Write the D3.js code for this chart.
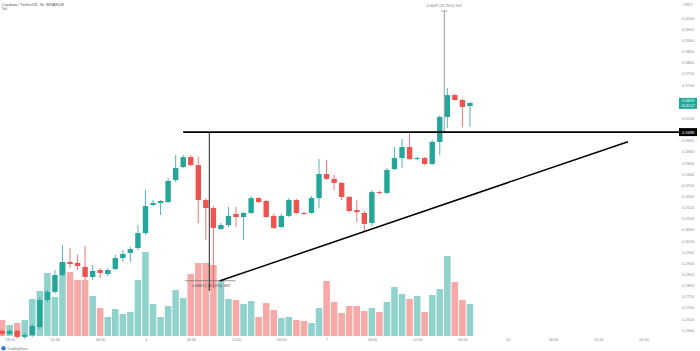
<!DOCTYPE html>
<html>
<head>
<meta charset="utf-8">
<script src="https://cdn.jsdelivr.net/npm/d3@7"></script>
<style>
html, body { margin: 0; padding: 0; background: #fff; }
#chart { width: 700px; height: 351px; }
text { font-family: "Liberation Sans", Arial, sans-serif; }
</style>
</head>
<body>
<div id="chart"></div>
<script>
// ADA/USDT 3h candles
const opens = [0.2596,0.2582,0.2596,0.2569,0.2578,0.2613,0.2735,0.2771,0.2847,0.2905,
    0.2901,0.2883,0.2838,0.2869,0.2851,0.2874,0.2923,0.2946,0.2968,0.3035,
    0.3161,0.3170,0.3174,0.3273,0.3331,0.3376,0.3340,0.3183,0.3147,0.3053,
    0.3071,0.3121,0.3107,0.3125,0.3192,0.3179,0.3112,0.3062,0.3112,0.3183,
    0.3125,0.3125,0.3192,0.3300,0.3278,0.3260,0.3197,0.3138,0.3125,0.3080,
    0.3219,0.3215,0.3322,0.3372,0.3421,0.3367,0.3372,0.3345,0.3444,0.3556,
    0.3654,0.3632,0.3605];
const highs = [0.2604,0.2604,0.2600,0.2587,0.2627,0.2748,0.2779,0.2869,0.2981,0.2968,
    0.2937,0.2977,0.2892,0.2878,0.2878,0.2937,0.2959,0.2972,0.3071,0.3228,
    0.3183,0.3183,0.3282,0.3385,0.3385,0.3385,0.3376,0.3192,0.3156,0.3080,
    0.3152,0.3152,0.3129,0.3201,0.3197,0.3183,0.3121,0.3121,0.3192,0.3188,
    0.3129,0.3201,0.3367,0.3363,0.3296,0.3264,0.3201,0.3183,0.3134,0.3228,
    0.3224,0.3327,0.3421,0.3457,0.3484,0.3376,0.3376,0.3453,0.3565,0.3686,
    0.3659,0.3637,0.3623];
const lows = [0.2573,0.2578,0.2560,0.2560,0.2569,0.2604,0.2726,0.2762,0.2838,0.2878,
    0.2869,0.2824,0.2824,0.2833,0.2842,0.2869,0.2905,0.2905,0.2959,0.3026,
    0.3156,0.3116,0.3170,0.3264,0.3327,0.3336,0.3080,0.3004,0.2788,0.3049,
    0.3062,0.3062,0.3004,0.3121,0.3170,0.3103,0.3053,0.3058,0.3107,0.3121,
    0.3116,0.3121,0.3147,0.3273,0.3228,0.3183,0.3129,0.3085,0.3044,0.3067,
    0.3210,0.3210,0.3318,0.3327,0.3363,0.3363,0.3340,0.3340,0.3385,0.3506,
    0.3628,0.3511,0.3511];
const closes = [0.2582,0.2596,0.2569,0.2578,0.2618,0.2735,0.2771,0.2847,0.2905,0.2896,
    0.2887,0.2838,0.2865,0.2856,0.2869,0.2923,0.2941,0.2963,0.3035,0.3156,
    0.3170,0.3179,0.3269,0.3327,0.3376,0.3340,0.3183,0.3147,0.3058,0.3071,
    0.3112,0.3107,0.3125,0.3192,0.3174,0.3107,0.3058,0.3112,0.3183,0.3125,
    0.3121,0.3192,0.3300,0.3278,0.3260,0.3197,0.3134,0.3129,0.3076,0.3219,
    0.3215,0.3318,0.3372,0.3421,0.3367,0.3372,0.3345,0.3444,0.3556,0.3654,
    0.3632,0.3601,0.3619];
const volumes = [16,11,13,16,37,45,63,39,73,64,
    56,56,40,28,19,27,22,24,56,84,
    32,19,30,46,38,62,73,73,71,56,
    37,36,32,35,19,33,26,18,19,16,
    15,13,28,55,34,23,30,30,25,28,
    24,34,49,42,37,40,24,41,47,80,
    54,36,32];

const timeTickIdx = [1, 7, 13, 19, 25, 31, 37, 43, 49, 55, 61, 67, 73, 79, 85];
const timeTickLabels = ['18:00', '12:00', '06:00', '4', '18:00', '12:00', '06:00', '7',
    '18:00', '12:00', '06:00', '10', '18:00', '12:00', '06:00'];
const priceTicks = d3.range(0, 29).map(k => +(0.26 + k * 0.005).toFixed(4));

// drawings on the chart (bar index, price)
const levelPrice = 0.3488;
const levelStartIdx = 24;
const trendIdx = [28.88, 82.94];
const trendPrice = [0.2821, 0.3445];
const dropIdx = 27.46;
const dropPrice = [0.3488, 0.2775];
const dropBase = 0.2821;
const dropBaseIdx = [24.2, 30.9];
const dropLabel = '-0.0667 (-19.12%) -667';
const spikeIdx = 58.6;
const spikePrice = [0.4031, 0.3484];
const spikeLabel = '0.0547 (15.70%) 547';

function drawCandleChart() {
    const width = 700, height = 351;
    const plotRight = 679;
    const up = '#26a69a', down = '#ef5350';
    const upVol = '#92d2cc', downVol = '#f7a9a7';

    const svg = d3.select('#chart').append('svg')
        .attr('width', width)
        .attr('height', height);

    const x = d3.scaleLinear().domain([0, 87]).range([2.1, 658.6]);
    const y = d3.scaleLinear().domain([0.26, 0.40]).range([330, 18]);
    const yVol = d3.scaleLinear().domain([0, 100]).range([336, 236]);
    const step = x(1) - x(0);

    const candles = opens.map((o, i) => ({
        i, o, h: highs[i], l: lows[i], c: closes[i], v: volumes[i], up: closes[i] >= o
    }));

    // volume
    svg.append('g').selectAll('rect')
        .data(candles)
        .enter()
        .append('rect')
        .attr('x', d => x(d.i) - (step - 1) / 2)
        .attr('y', d => yVol(d.v))
        .attr('width', step - 1)
        .attr('height', d => yVol(0) - yVol(d.v))
        .attr('fill', d => d.up ? upVol : downVol);

    // wicks + bodies
    const g = svg.append('g');
    g.selectAll('.wick')
        .data(candles)
        .enter()
        .append('line')
        .attr('class', 'wick')
        .attr('x1', d => x(d.i)).attr('x2', d => x(d.i))
        .attr('y1', d => y(d.h)).attr('y2', d => y(d.l))
        .attr('stroke', d => d.up ? up : down)
        .attr('stroke-width', 0.8);

    g.selectAll('.body')
        .data(candles)
        .enter()
        .append('rect')
        .attr('class', 'body')
        .attr('x', d => x(d.i) - 2.7)
        .attr('y', d => y(Math.max(d.o, d.c)))
        .attr('width', 5.4)
        .attr('height', d => Math.max(1, Math.abs(y(d.o) - y(d.c))))
        .attr('fill', d => d.up ? up : down);

    // spike range marker
    svg.append('line')
        .attr('x1', x(spikeIdx)).attr('x2', x(spikeIdx))
        .attr('y1', y(spikePrice[0])).attr('y2', y(spikePrice[1]))
        .attr('stroke', '#8f929a').attr('stroke-width', 0.9);
    svg.append('line')
        .attr('x1', x(spikeIdx) - 3).attr('x2', x(spikeIdx) + 3)
        .attr('y1', y(spikePrice[0])).attr('y2', y(spikePrice[0]))
        .attr('stroke', '#8f929a').attr('stroke-width', 0.9);
    svg.append('text')
        .attr('x', x(spikeIdx)).attr('y', y(spikePrice[0]) - 4.5)
        .attr('text-anchor', 'middle')
        .attr('font-size', 3.8).attr('fill', '#6f727a')
        .text(spikeLabel);

    // horizontal resistance
    svg.append('line')
        .attr('x1', x(levelStartIdx)).attr('x2', plotRight)
        .attr('y1', y(levelPrice)).attr('y2', y(levelPrice))
        .attr('stroke', '#000').attr('stroke-width', 1.6);

    // drop measure
    svg.append('line')
        .attr('x1', x(dropIdx)).attr('x2', x(dropIdx))
        .attr('y1', y(dropPrice[0])).attr('y2', y(dropPrice[1]))
        .attr('stroke', '#222').attr('stroke-width', 1);
    svg.append('line')
        .attr('x1', x(dropBaseIdx[0])).attr('x2', x(dropBaseIdx[1]))
        .attr('y1', y(dropBase)).attr('y2', y(dropBase))
        .attr('stroke', '#555').attr('stroke-width', 0.6);
    svg.append('text')
        .attr('x', x(dropIdx) + 1.5).attr('y', y(dropBase) + 6)
        .attr('text-anchor', 'middle')
        .attr('font-size', 3.8).attr('fill', '#444')
        .text(dropLabel);

    // rising trendline
    svg.append('line')
        .attr('x1', x(trendIdx[0])).attr('y1', y(trendPrice[0]))
        .attr('x2', x(trendIdx[1])).attr('y2', y(trendPrice[1]))
        .attr('stroke', '#000').attr('stroke-width', 1.5);

    // price axis
    const lastPrice = closes[closes.length - 1];
    const yAxis = svg.append('g')
        .attr('transform', 'translate(688,0)')
        .call(d3.axisRight(y)
            .tickValues(priceTicks.filter(p =>
                Math.abs(y(p) - y(levelPrice)) > 6 && Math.abs(y(p) - y(lastPrice)) > 8))
            .tickFormat(d3.format('.4f'))
            .tickSize(0).tickPadding(0));
    yAxis.select('.domain').remove();
    yAxis.selectAll('text')
        .attr('text-anchor', 'middle')
        .attr('font-family', '"Liberation Sans", Arial, sans-serif')
        .attr('font-size', 4)
        .attr('fill', '#8a8d96');

    svg.append('rect')
        .attr('x', plotRight).attr('y', y(levelPrice) - 4)
        .attr('width', 18).attr('height', 8)
        .attr('fill', '#000');
    svg.append('text')
        .attr('x', 688).attr('y', y(levelPrice) + 1.4)
        .attr('text-anchor', 'middle')
        .attr('font-size', 4).attr('fill', '#fff')
        .text(levelPrice.toFixed(4));

    svg.append('rect')
        .attr('x', plotRight).attr('y', y(lastPrice) - 5)
        .attr('width', 18).attr('height', 11)
        .attr('fill', up);
    svg.append('text')
        .attr('x', 688).attr('y', y(lastPrice) - 0.5)
        .attr('text-anchor', 'middle')
        .attr('font-size', 4).attr('fill', '#fff')
        .text(lastPrice.toFixed(4));
    svg.append('text')
        .attr('x', 688).attr('y', y(lastPrice) + 4)
        .attr('text-anchor', 'middle')
        .attr('font-size', 3.4).attr('fill', '#fff')
        .text('01:42:17');

    svg.append('text')
        .attr('x', 688).attr('y', 6)
        .attr('text-anchor', 'middle')
        .attr('font-size', 3.6).attr('fill', '#8a8d96')
        .text('USDT');

    // time axis
    const xAxis = svg.append('g')
        .attr('transform', 'translate(0,338)')
        .call(d3.axisBottom(x)
            .tickValues(timeTickIdx)
            .tickFormat((d, i) => timeTickLabels[i])
            .tickSize(0).tickPadding(0));
    xAxis.select('.domain').remove();
    xAxis.selectAll('text')
        .attr('font-family', '"Liberation Sans", Arial, sans-serif')
        .attr('font-size', 3.8)
        .attr('fill', '#8a8d96');

    // legend + logo
    svg.append('text')
        .attr('x', 2).attr('y', 5.5)
        .attr('font-size', 4).attr('fill', '#555')
        .text('Cardano / TetherUS, 3h, BINANCE');
    svg.append('text')
        .attr('x', 2).attr('y', 10)
        .attr('font-size', 3.6).attr('fill', '#666')
        .text('Vol');

    svg.append('circle')
        .attr('cx', 3.5).attr('cy', 348.3).attr('r', 2.2)
        .attr('fill', '#2e7bd6');
    svg.append('text')
        .attr('x', 7).attr('y', 349.6)
        .attr('font-size', 3.8).attr('fill', '#777')
        .text('TradingView');
}

drawCandleChart();
</script>
</body>
</html>
